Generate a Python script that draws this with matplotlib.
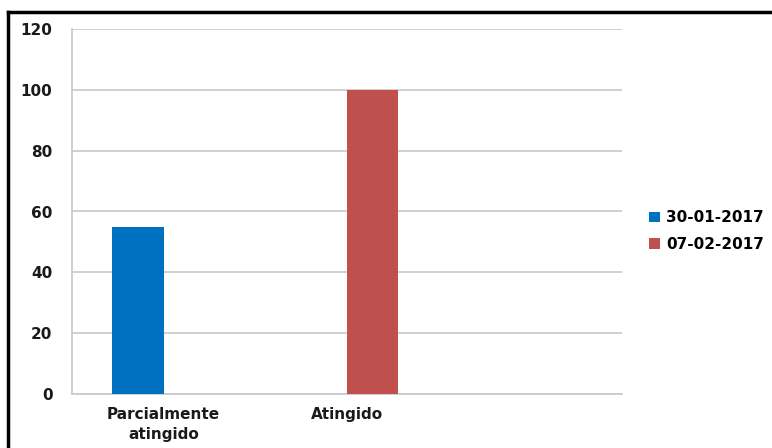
import matplotlib
matplotlib.use("Agg")
import matplotlib.pyplot as plt
from matplotlib.lines import Line2D
from matplotlib.patches import Patch
import numpy as np

categories = ["Parcialmente\natingido", "Atingido", ""]
series_names = ["30-01-2017", "07-02-2017"]
values_s1 = [55, 0, 0]
values_s2 = [0, 100, 0]
colors = ["#0070C0", "#C0504D"]
yticks = [0, 20, 40, 60, 80, 100, 120]

fig = plt.figure(figsize=(7.72, 4.48), dpi=100)
ax = fig.add_axes([72/772, 1-394/448, 550/772, (394-29)/448])

x = np.arange(len(categories))
w = 0.28
ax.bar(x - 0.14, values_s1, width=w, color=colors[0], zorder=3)
ax.bar(x + 0.14, values_s2, width=w, color=colors[1], zorder=3)

ax.set_xlim(-0.5, len(categories) - 0.5)
ax.set_ylim(0, 120)
ax.set_yticks(yticks)
ax.set_yticklabels([str(v) for v in yticks], fontsize=11, fontweight="bold", color="#1a1a1a")
ax.set_xticks(x)
ax.set_xticklabels(categories, fontsize=11, fontweight="bold", color="#1a1a1a", linespacing=1.45)
ax.tick_params(length=0)
ax.tick_params(axis="y", pad=14)
ax.tick_params(axis="x", pad=9)
ax.grid(axis="y", color="#C8C8C8", linewidth=1.2, zorder=0)
for s in ["top", "right"]:
    ax.spines[s].set_visible(False)
for s in ["left", "bottom"]:
    ax.spines[s].set_color("#C8C8C8")
    ax.spines[s].set_linewidth(1.2)

handles = [Patch(facecolor=c, edgecolor="none") for c in colors]
fig.legend(handles, series_names, loc="center left", bbox_to_anchor=(643/772, 1-231/448),
           frameon=False, prop={"weight": "bold", "size": 11}, handlelength=0.7, handleheight=0.7,
           handletextpad=0.4, labelspacing=0.75, borderaxespad=0)

# outer border (left and top)
fig.add_artist(Line2D([8/772, 8/772], [0, 1-12/448], color="black", linewidth=2.5, transform=fig.transFigure))
fig.add_artist(Line2D([8/772, 1], [1-12/448, 1-12/448], color="black", linewidth=2.5, transform=fig.transFigure))

fig.savefig("out.png", dpi=100)
